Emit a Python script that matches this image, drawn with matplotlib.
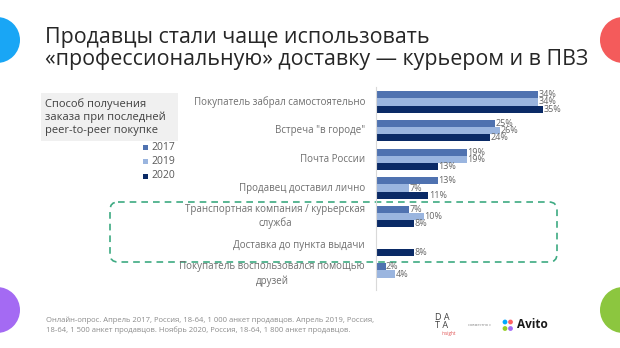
import matplotlib
matplotlib.use("Agg")
import matplotlib.pyplot as plt
import numpy as np
from matplotlib.patches import Circle, FancyBboxPatch, Rectangle

plt.rcParams['font.family'] = ['Open Sans', 'DejaVu Sans']

# данные
categories = [
    "Покупатель забрал самостоятельно",
    "Встреча \"в городе\"",
    "Почта России",
    "Продавец доставил лично",
    "Транспортная компания / курьерская\nслужба",
    "Доставка до пункта выдачи",
    "Покупатель воспользовался помощью\nдрузей",
]
years = ["2017", "2019", "2020"]
v2017 = [34, 25, 19, 13, 7, np.nan, 2]
v2019 = [34, 26, 19, 7, 10, np.nan, 4]
v2020 = [35, 24, 13, 11, 8, 8, np.nan]
colors = ["#4F72B0", "#9AB5DF", "#0A2A66"]

title_lines = ["Продавцы стали чаще использовать",
               "«профессиональную» доставку — курьером и в ПВЗ"]
legend_title = "Способ получения\nзаказа при последней\npeer-to-peer покупке"
note = ("Онлайн-опрос. Апрель 2017, Россия, 18-64, 1 000 анкет продавцов. Апрель 2019, Россия,\n"
        "18-64, 1 500 анкет продавцов. Ноябрь 2020, Россия, 18-64, 1 800 анкет продавцов.")

W, H = 620, 348
fig = plt.figure(figsize=(W / 100, H / 100), dpi=100)
fig.patch.set_facecolor("white")

# подложка в пикселях
bg = fig.add_axes([0, 0, 1, 1])
bg.set_xlim(0, W)
bg.set_ylim(H, 0)
bg.axis("off")

# график
ax_top, ax_bot = 87, 290
ax_left, ax_right = 376, 600
ax = fig.add_axes([ax_left / W, 1 - ax_bot / H, (ax_right - ax_left) / W, (ax_bot - ax_top) / H])
px_per_unit = 28.67
n = len(categories)
ax.set_ylim(6 + (ax_bot - 274) / px_per_unit, -(102 - ax_top) / px_per_unit)
ax.set_xlim(0, (ax_right - ax_left) / 4.77)

y = np.arange(n)
h = 0.245
for k, (vals, c) in enumerate(zip([v2017, v2019, v2020], colors)):
    yy = y + (k - 1) * h
    ax.barh(yy, vals, height=h, color=c, edgecolor="none")
    for yi, v in zip(yy, vals):
        if not np.isnan(v):
            ax.text(v + 0.1, yi, f"{v:.0f}%", va="center", ha="left",
                    fontsize=6.5, color="#666666")

for s in ["top", "right", "bottom"]:
    ax.spines[s].set_visible(False)
ax.spines["left"].set_color("#D9D9D9")
ax.set_xticks([])
ax.set_yticks([])
ax.patch.set_alpha(0)

for yi, lab in zip(y, categories):
    ax.text(-2.3, yi, lab, ha="right", va="center", multialignment="center",
            fontsize=7, color="#6E6E6E", linespacing=1.3)

# заголовок
bg.text(45, 43, title_lines[0], fontsize=15.4, color="#262626", va="baseline", ha="left")
bg.text(45, 65, title_lines[1], fontsize=15.4, color="#262626", va="baseline", ha="left")

# кружки по углам
for (cx, cy, c) in [(-3, 40, "#19A6F5"), (623, 40, "#F45B5B"),
                    (-3, 310, "#A46AF3"), (623, 310, "#8CC63F")]:
    bg.add_patch(Circle((cx, cy), 23, color=c, lw=0))

# легенда
bg.add_patch(Rectangle((41, 93), 137, 48, color="#F0F0F0", lw=0))
bg.text(45, 117, legend_title, fontsize=8, color="#404040", va="center", ha="left",
        linespacing=1.25)
for i, (yr, c) in enumerate(zip(years, colors)):
    yy = 147 + i * 14.5
    bg.add_patch(Rectangle((143, yy - 2.5), 5, 5, color=c, lw=0))
    bg.text(151, yy, yr, fontsize=7.5, color="#595959", va="center", ha="left")

# пунктирная рамка
bg.add_patch(FancyBboxPatch((118, 210), 431, 44,
                            boxstyle="round,pad=8,rounding_size=8",
                            fill=False, ec="#3DAA82", lw=1.2, ls=(0, (4, 3))))

# подпись
bg.text(46, 325.5, note, fontsize=5.5, color="#8C8C8C", va="center", ha="left",
        linespacing=1.45)

# логотипы
bg.text(435, 317, "D A", fontsize=6.5, color="#404040", va="center", ha="left")
bg.text(435, 325, "T A", fontsize=6.5, color="#404040", va="center", ha="left")
bg.text(442, 333.5, "insight", fontsize=3.3, color="#E05050", va="center", ha="left")
bg.text(468, 325, "совместно с", fontsize=2.8, color="#808080", va="center", ha="left")
for (dx, dy, c) in [(505, 322, "#00AAFF"), (510.5, 322, "#FF6163"),
                    (505, 328.5, "#97CF26"), (510.5, 328.5, "#A169F7")]:
    bg.add_patch(Circle((dx, dy), 2.4, color=c, lw=0))
bg.text(517, 325, "Avito", fontsize=8.5, fontweight="bold", color="#1A1A1A",
        va="center", ha="left")

fig.savefig("out.png", dpi=100)
